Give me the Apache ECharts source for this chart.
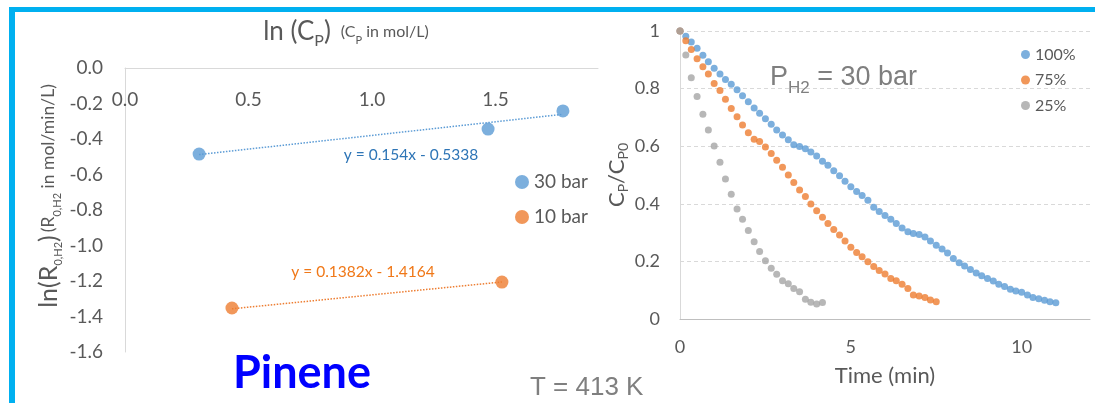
<!DOCTYPE html>
<html><head><meta charset="utf-8">
<script src="https://cdn.jsdelivr.net/npm/echarts@6/dist/echarts.min.js"></script>
<style>html,body{margin:0;padding:0;background:#fff;overflow:hidden}#c{width:1095px;height:403px}</style>
</head><body><div id="c"></div><script>
// ---- Left chart: ln(R0,H2) vs ln(Cp) ----
const lnCp30 = [0.30, 1.47, 1.773];
const lnR30 = [-0.485, -0.344, -0.242];
const lnCp10 = [0.433, 1.526];
const lnR10 = [-1.352, -1.206];
const trendX30 = [0.30, 1.773];
const trendY30 = [-0.4876, -0.2608];
const trendX10 = [0.433, 1.526];
const trendY10 = [-1.3566, -1.2055];
const eq30 = 'y = 0.154x - 0.5338';
const eq10 = 'y = 0.1382x - 1.4164';
const leftNames = ['30 bar', '10 bar'];

// ---- Right chart: Cp/Cp0 vs time ----
const timeMin = [0, 0.17, 0.33, 0.5, 0.67, 0.83, 1, 1.17, 1.33, 1.5, 1.67, 1.83, 2, 2.17, 2.33, 2.5, 2.67, 2.83, 3, 3.17, 3.33, 3.5, 3.67, 3.83, 4, 4.17, 4.33, 4.5, 4.67, 4.83, 5, 5.17, 5.33, 5.5, 5.67, 5.83, 6, 6.17, 6.33, 6.5, 6.67, 6.83, 7, 7.17, 7.33, 7.5, 7.67, 7.83, 8, 8.17, 8.33, 8.5, 8.67, 8.83, 9, 9.17, 9.33, 9.5, 9.67, 9.83, 10, 10.17, 10.33, 10.5, 10.67, 10.83, 11];
const c100 = [1.000, 0.982, 0.962, 0.940, 0.916, 0.893, 0.871, 0.851, 0.832, 0.815, 0.796, 0.775, 0.754, 0.733, 0.714, 0.695, 0.676, 0.656, 0.639, 0.622, 0.605, 0.599, 0.591, 0.580, 0.566, 0.548, 0.534, 0.515, 0.497, 0.478, 0.459, 0.443, 0.429, 0.412, 0.388, 0.373, 0.359, 0.346, 0.332, 0.316, 0.303, 0.297, 0.293, 0.285, 0.271, 0.256, 0.243, 0.229, 0.210, 0.195, 0.184, 0.172, 0.160, 0.150, 0.141, 0.132, 0.121, 0.113, 0.103, 0.097, 0.093, 0.083, 0.075, 0.070, 0.065, 0.060, 0.056];
const c75 = [1.000, 0.966, 0.936, 0.904, 0.876, 0.851, 0.818, 0.793, 0.763, 0.731, 0.702, 0.674, 0.647, 0.624, 0.616, 0.597, 0.575, 0.551, 0.527, 0.500, 0.474, 0.448, 0.425, 0.399, 0.376, 0.353, 0.332, 0.311, 0.292, 0.271, 0.249, 0.231, 0.216, 0.199, 0.182, 0.168, 0.156, 0.141, 0.133, 0.121, 0.106, 0.083, 0.080, 0.075, 0.066, 0.060];
const c25 = [1.000, 0.917, 0.838, 0.773, 0.711, 0.656, 0.601, 0.544, 0.486, 0.433, 0.382, 0.346, 0.307, 0.268, 0.234, 0.202, 0.176, 0.155, 0.133, 0.122, 0.106, 0.095, 0.069, 0.058, 0.052, 0.057];
const rightNames = ['100%', '75%', '25%'];

const BLUE = '#5b9bd5', ORANGE = '#ed7d31', GRAY = '#a5a5a5', TXT = '#595959';
const CAL = 'Lato, "Open Sans", sans-serif';
const ARIAL = '"Liberation Sans", Arial, sans-serif';

const pairs = (xs, ys) => ys.map((y, i) => [xs[i], y]);

const chart = echarts.init(document.getElementById('c'), null, {renderer: 'canvas'});
chart.setOption({
  animation: false,
  backgroundColor: '#ffffff',
  textStyle: {fontFamily: CAL},
  grid: [
    {left: 125, top: 68, width: 473, height: 284},
    {left: 680, top: 31, right: 5, bottom: 84}
  ],
  legend: [
    {data: leftNames, orient: 'vertical', left: 510, top: 166, itemGap: 13, itemWidth: 14, itemHeight: 14,
     icon: 'circle', textStyle: {fontSize: 19, color: TXT, fontFamily: CAL, lineHeight: 22}},
    {data: rightNames, orient: 'vertical', left: 1016, top: 41, itemGap: 8.5, itemWidth: 9, itemHeight: 9,
     icon: 'circle', textStyle: {fontSize: 16, color: TXT, fontFamily: CAL, lineHeight: 17}}
  ],
  xAxis: [
    {gridIndex: 0, type: 'value', position: 'top', min: 0, max: 1.915, interval: 0.5,
     axisLine: {show: true, lineStyle: {color: '#d9d9d9'}}, axisTick: {show: false}, splitLine: {show: false},
     axisLabel: {inside: true, margin: 22, fontSize: 19, color: TXT, showMaxLabel: false, formatter: v => v.toFixed(1)}},
    {gridIndex: 1, type: 'value', min: 0, max: 12, interval: 5,
     axisLine: {show: true, lineStyle: {color: '#bfbfbf'}}, axisTick: {show: false}, splitLine: {show: false},
     axisLabel: {margin: 19, fontSize: 18, color: TXT, showMaxLabel: false},
     name: 'Time (min)', nameLocation: 'middle', nameGap: 46, nameTextStyle: {fontSize: 22, color: TXT, fontFamily: CAL}}
  ],
  yAxis: [
    {gridIndex: 0, type: 'value', min: -1.6, max: 0, interval: 0.2,
     axisLine: {show: true, lineStyle: {color: '#d9d9d9'}}, axisTick: {show: false}, splitLine: {show: false},
     axisLabel: {margin: 22, fontSize: 19, color: TXT, formatter: v => v.toFixed(1)},
     name: '{b|ln(R}{bs|0,H2}{b|)} {s|(R}{ss|0,H2}{s| in mol/min/L)}', nameLocation: 'middle', nameRotate: 90, nameGap: 64,
     nameTextStyle: {color: TXT, fontFamily: CAL, padding: [0, 0, 0, 28], rich: {
       b: {fontSize: 25, color: TXT, fontFamily: CAL},
       bs: {fontSize: 11, color: TXT, fontFamily: CAL, verticalAlign: 'bottom', padding: [0, 0, -3, 0]},
       s: {fontSize: 17.5, color: TXT, fontFamily: CAL},
       ss: {fontSize: 11, color: TXT, fontFamily: CAL, verticalAlign: 'bottom', padding: [0, 0, -2, 0]}
     }}},
    {gridIndex: 1, type: 'value', min: 0, max: 1, interval: 0.2,
     axisLine: {show: true, lineStyle: {color: '#d9d9d9'}}, axisTick: {show: false},
     splitLine: {show: true, lineStyle: {color: '#d9d9d9', type: [4, 3]}},
     axisLabel: {margin: 20, fontSize: 18, color: TXT},
     name: '{b|C}{s|P}{b|/C}{s|P0}', nameLocation: 'middle', nameRotate: 90, nameGap: 47,
     nameTextStyle: {color: TXT, rich: {
       b: {fontSize: 22, color: TXT, fontFamily: CAL},
       s: {fontSize: 14, color: TXT, fontFamily: CAL, verticalAlign: 'bottom', padding: [0, 0, -3, 0]}
     }}}
  ],
  series: [
    {name: '30 bar', type: 'scatter', xAxisIndex: 0, yAxisIndex: 0, symbolSize: 13, itemStyle: {color: BLUE}, data: pairs(lnCp30, lnR30), z: 3},
    {name: '10 bar', type: 'scatter', xAxisIndex: 0, yAxisIndex: 0, symbolSize: 13, itemStyle: {color: ORANGE}, data: pairs(lnCp10, lnR10), z: 3},
    {name: 'trend30', type: 'line', xAxisIndex: 0, yAxisIndex: 0, symbol: 'none', lineStyle: {color: BLUE, width: 1.5, type: [1.5, 1.5]}, data: pairs(trendX30, trendY30), z: 2},
    {name: 'trend10', type: 'line', xAxisIndex: 0, yAxisIndex: 0, symbol: 'none', lineStyle: {color: ORANGE, width: 1.5, type: [1.5, 1.5]}, data: pairs(trendX10, trendY10), z: 2},
    {name: '100%', type: 'scatter', xAxisIndex: 1, yAxisIndex: 1, symbolSize: 7, itemStyle: {color: BLUE}, data: pairs(timeMin, c100)},
    {name: '75%', type: 'scatter', xAxisIndex: 1, yAxisIndex: 1, symbolSize: 7, itemStyle: {color: ORANGE}, data: pairs(timeMin, c75)},
    {name: '25%', type: 'scatter', xAxisIndex: 1, yAxisIndex: 1, symbolSize: 7, itemStyle: {color: GRAY}, data: pairs(timeMin, c25)}
  ],
  graphic: [
    {type: 'rect', shape: {x: 9, y: 7, width: 1086, height: 5}, style: {fill: '#00b0f0'}, silent: true},
    {type: 'rect', shape: {x: 9, y: 7, width: 6, height: 396}, style: {fill: '#00b0f0'}, silent: true},
    {type: 'text', x: 346, y: 32, style: {
      text: '{b|ln (C}{bs|P}{b|)}   {s|(C}{ss|P}{s| in mol/L)}', align: 'center', verticalAlign: 'middle',
      rich: {
        b: {fontSize: 26, fill: TXT, fontFamily: CAL},
        bs: {fontSize: 16, fill: TXT, fontFamily: CAL, verticalAlign: 'bottom', padding: [0, 0, -4, 0]},
        s: {fontSize: 16, fill: TXT, fontFamily: CAL},
        ss: {fontSize: 11, fill: TXT, fontFamily: CAL, verticalAlign: 'bottom', padding: [0, 0, -1, 0]}
      }}},
    {type: 'text', x: 411, y: 155, style: {text: eq30, fill: '#2e75b6', fontSize: 15.5, fontFamily: CAL, align: 'center', verticalAlign: 'middle'}},
    {type: 'text', x: 363, y: 272, style: {text: eq10, fill: '#f07818', fontSize: 15.5, fontFamily: CAL, align: 'center', verticalAlign: 'middle'}},
    {type: 'text', x: 302, y: 373, style: {text: 'Pinene', fill: '#0000ff', fontSize: 45, fontWeight: 'bold', fontFamily: CAL, align: 'center', verticalAlign: 'middle'}},
    {type: 'text', x: 530, y: 388, style: {text: 'T = 413 K', fill: '#7f7f7f', fontSize: 26, fontFamily: ARIAL, align: 'left', verticalAlign: 'middle'}},
    {type: 'text', x: 770, y: 78, style: {
      text: '{b|P}{s|H2}{b| = 30 bar}', align: 'left', verticalAlign: 'middle',
      rich: {
        b: {fontSize: 27, fill: '#7f7f7f', fontFamily: ARIAL},
        s: {fontSize: 17, fill: '#7f7f7f', fontFamily: ARIAL, verticalAlign: 'bottom', padding: [0, 0, -5, 0]}
      }}}
  ]
});
</script></body></html>
